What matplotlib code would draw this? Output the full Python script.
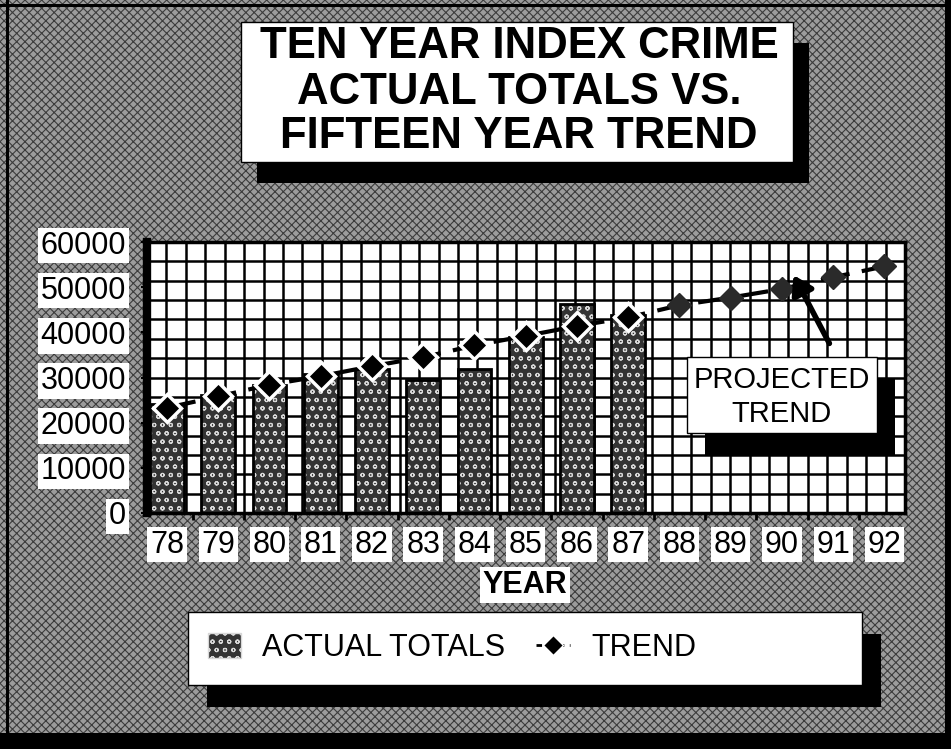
import numpy as np
import matplotlib.pyplot as plt
from matplotlib.patches import Rectangle, Patch
from matplotlib.lines import Line2D

plt.rcParams['font.family'] = ['Liberation Sans', 'DejaVu Sans']
plt.rcParams['hatch.linewidth'] = 0.8

years = ["78", "79", "80", "81", "82", "83", "84", "85", "86", "87",
         "88", "89", "90", "91", "92"]
actual_totals = [24200, 26200, 28400, 30700, 31800, 29400, 31800, 38900, 46200, 43800]
trend = [23300, 25800, 28400, 30300, 32500, 34500, 37100, 39200, 41400, 43300,
         46000, 47700, 49600, 52200, 54600]
y_ticks = [0, 10000, 20000, 30000, 40000, 50000, 60000]

W, H = 951, 749


def fx(x):
    return x / W


def fy(y):
    return 1 - y / H


def shadow_box(fig, x0, y0, x1, y1, dx, dy):
    # black drop shadow, then the white box on top
    fig.patches.append(Rectangle((fx(x0 + dx), fy(y1 + dy)), fx(x1 - x0), (y1 - y0) / H,
                                 transform=fig.transFigure, facecolor='black',
                                 edgecolor='none', zorder=2))
    fig.patches.append(Rectangle((fx(x0), fy(y1)), fx(x1 - x0), (y1 - y0) / H,
                                 transform=fig.transFigure, facecolor='white',
                                 edgecolor='black', lw=1, zorder=3))


fig = plt.figure(figsize=(9.51, 7.49), dpi=100)
fig.patch.set_facecolor('#8f8f8f')

# halftone-ish background
fig.patches.append(Rectangle((0, 0), 1, 1, transform=fig.transFigure,
                             facecolor='#9c9c9c', edgecolor='#3c3c3c', hatch='xxxx',
                             lw=0, zorder=-10))
# scanned black borders
fig.patches.append(Rectangle((0, 0), 1, fy(733), transform=fig.transFigure,
                             facecolor='black', edgecolor='none', zorder=-9))
fig.patches.append(Rectangle((fx(945), 0), 1, 1, transform=fig.transFigure,
                             facecolor='black', edgecolor='none', zorder=-9))
fig.patches.append(Rectangle((fx(6), 0), fx(3), 1, transform=fig.transFigure,
                             facecolor='black', edgecolor='none', zorder=-9))
fig.patches.append(Rectangle((0, fy(7)), 1, 3 / H, transform=fig.transFigure,
                             facecolor='black', edgecolor='none', zorder=-9))

# title box
shadow_box(fig, 241, 22, 793, 162, 16, 21)
title_lines = ["TEN YEAR INDEX CRIME", "ACTUAL TOTALS VS.", "FIFTEEN YEAR TREND"]
for line, yc in zip(title_lines, [46, 92, 137]):
    fig.text(fx(519), fy(yc), line, ha='center', va='center', fontsize=31.5,
             fontweight='bold', zorder=4)

ax = fig.add_axes([fx(147), fy(513), fx(905 - 147), (513 - 242) / H])
ax.set_facecolor('white')
x = np.arange(len(years))
ax.set_xlim(-0.39, 14.4)
ax.set_ylim(0, 60000)

# grid
xmin, xmax = ax.get_xlim()
ax.vlines(np.linspace(xmin, xmax, 40), 0, 60000, color='black', lw=1.8, zorder=1)
ax.hlines(np.linspace(0, 60000, 15), xmin, xmax, color='black', lw=1.8, zorder=1)

# bars
n = len(actual_totals)
ax.bar(x[:n], actual_totals, width=0.66, color='#333333', edgecolor='#d8d8d8',
       hatch='oo', lw=0, zorder=2)
ax.bar(x[:n], actual_totals, width=0.66, fill=False, edgecolor='black', lw=2, zorder=3)

# trend
ax.plot(x, trend, color='black', lw=3, dashes=(7, 3), zorder=4)
ax.plot(x[:n], trend[:n], ls='none', marker='D', ms=14, mfc='black', mec='white',
        mew=2.5, zorder=5)
ax.plot(x[n:], trend[n:], ls='none', marker='D', ms=12, mfc='#2a2a2a', mec='#2a2a2a',
        zorder=5)

for s in ax.spines.values():
    s.set_linewidth(2.5)
ax.spines['left'].set_linewidth(6)

ax.set_yticks(y_ticks)
ax.set_yticklabels([str(v) for v in y_ticks])
ax.set_xticks(x)
ax.set_xticklabels(years)
ax.set_xticks(x[:-1] + 0.5, minor=True)
ax.tick_params(axis='x', which='major', length=0, pad=12, labelsize=22)
ax.tick_params(axis='x', which='minor', length=5, width=2, direction='out')
ax.tick_params(axis='y', length=4, width=1.5, pad=11, labelsize=22)
for lab in ax.get_xticklabels() + ax.get_yticklabels():
    lab.set_bbox(dict(facecolor='white', edgecolor='none', pad=2))

fig.text(fx(525), fy(585), "YEAR", ha='center', va='center', fontsize=22,
         fontweight='bold', bbox=dict(facecolor='white', edgecolor='none', pad=2))

# projected trend callout
shadow_box(fig, 687, 357, 877, 433, 18, 22)
fig.text(fx(782), fy(380), "PROJECTED", ha='center', va='center', fontsize=21, zorder=4)
fig.text(fx(782), fy(414), "TREND", ha='center', va='center', fontsize=21, zorder=4)
ax.annotate('', xy=(12.2, 53200), xytext=(12.95, 37000),
            arrowprops=dict(arrowstyle='-|>,head_length=1.1,head_width=0.7',
                            color='black', lw=4), zorder=6)

# legend
shadow_box(fig, 188, 612, 862, 685, 19, 22)
handles = [Patch(facecolor='#333333', edgecolor='#d8d8d8', hatch='oo'),
           Line2D([], [], color='black', lw=2, dashes=(2, 2), marker='D', ms=10,
                  mfc='black', mec='white')]
leg = fig.legend(handles, ["ACTUAL TOTALS", "TREND"], loc='center left',
                 bbox_to_anchor=(fx(180), fy(648)), ncol=2, frameon=False,
                 fontsize=22, handlelength=1.1, handleheight=0.9,
                 handletextpad=0.7, columnspacing=1.0)
leg.set_zorder(5)

fig.savefig("out.png", dpi=100, facecolor=fig.get_facecolor())
